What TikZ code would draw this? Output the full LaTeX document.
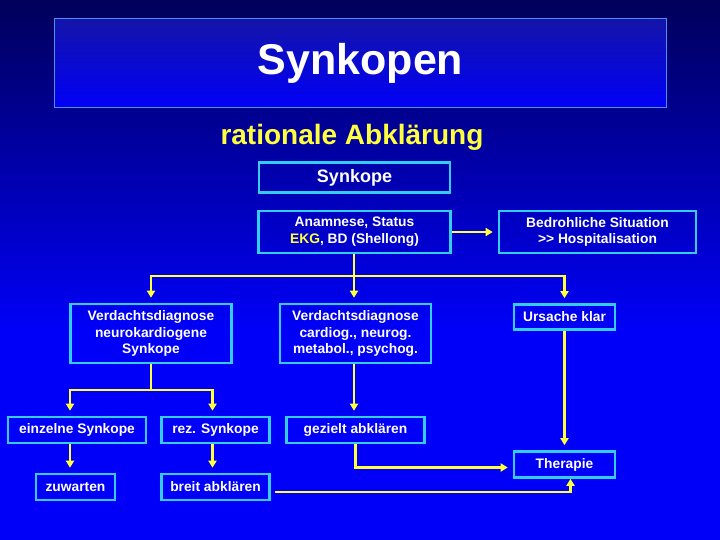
\documentclass[tikz,border=0pt]{standalone}
\usepackage{fontspec}
\setmainfont{Liberation Sans}
\usetikzlibrary{arrows.meta,positioning}
\definecolor{synBgTop}{HTML}{00005A}
\definecolor{synBgBot}{HTML}{0000F8}
\definecolor{synCyan}{HTML}{33CCFF}
\definecolor{synYellow}{HTML}{FFFF3C}
\definecolor{synFrame}{HTML}{4A90F0}
\definecolor{synHead}{HTML}{1414A8}
\tikzset{
  >={Triangle[length=7pt,width=8pt]},
  titlebox/.style={draw=synFrame, line width=1pt, top color=synHead, bottom color=synBgBot,
              minimum width=612pt, minimum height=89pt, text=white,
              font=\bfseries\fontsize{43}{43}\selectfont},
  subline/.style={text=synYellow, font=\bfseries\fontsize{28}{28}\selectfont},
  box/.style={draw=synCyan, line width=2.6pt, text=white, align=center, inner sep=2pt,
              font=\bfseries\fontsize{13.8}{16.8}\selectfont},
  flow/.style={->, draw=synYellow, line width=2.4pt, shorten >=5pt},
  link/.style={draw=synYellow, line width=2.4pt},
}

\begin{document}
\begin{tikzpicture}[x=1pt,y=-1pt]
        \useasboundingbox (0,0) rectangle (720,540);
        \fill[synBgBot] (0,0) rectangle (720,540);
        \shade[top color=synBgTop, bottom color=synBgBot] (0,0) rectangle (720,330);
        \node[titlebox] (title) at (360.5,63) {Synkopen};
        \node[subline] (sub) at (352,137) {rationale Abklärung};
        % top row
        \node[box,minimum width=191pt,minimum height=30pt,font=\bfseries\fontsize{18}{18}\selectfont] (synk) at (354.5,177.5) {Synkope};
        \node[box,minimum width=192pt,minimum height=42pt] (anam) at (354.5,232)
              {Anamnese, Status\\\textcolor{synYellow}{EKG}, BD (Shellong)};
        \node[box,minimum width=197pt,minimum height=42pt] (bedr) at (597.5,232)
              {Bedrohliche Situation\\{>}{>} Hospitalisation};
        % diagnoses
        \node[box,minimum width=161pt,minimum height=59pt] (vd1) at (151,333.5)
              {Verdachtsdiagnose\\neurokardiogene\\Synkope};
        \node[box,minimum width=151pt,minimum height=59pt] (vd2) at (355.5,333.5)
              {Verdachtsdiagnose\\cardiog., neurog.\\metabol., psychog.};
        \node[box,minimum width=101pt,minimum height=25pt] (urs) at (564.5,317) {Ursache klar};
        % lower rows
        \node[box,minimum width=138pt,minimum height=26pt] (einz) at (77,430) {einzelne Synkope};
        \node[box,minimum width=108pt,minimum height=26pt] (rez) at (215.5,430) {rez. Synkope};
        \node[box,minimum width=138pt,minimum height=26pt] (gez) at (355.5,430) {gezielt abklären};
        \node[box,minimum width=79pt,minimum height=26pt] (zuw) at (75.5,487) {zuwarten};
        \node[box,minimum width=108pt,minimum height=26pt] (breit) at (215.5,487) {breit abklären};
        \node[box,minimum width=101pt,minimum height=26pt] (ther) at (564.5,464.5) {Therapie};
        \coordinate (j1) at (354,276);
        \coordinate (j2) at (151,390);
        \draw[flow] (anam) -- (bedr);
        \draw[link] (anam.south -| j1) -- (j1);
        \draw[flow] (j1) -| (vd1);
        \draw[flow] (j1) -- (j1 |- vd2.north);
        \draw[flow] (j1) -| (urs);
        \draw[link] (vd1.south) -- (j2);
        \draw[flow] (j2) -| ([xshift=-7pt]einz.north);
        \draw[flow] (j2) -| ([xshift=-3pt]rez.north);
        \draw[flow] ([xshift=-7pt]einz.south) -- ([xshift=-7pt]einz.south |- zuw.north);
        \draw[flow] ([xshift=-3pt]rez.south) -- ([xshift=-3pt]rez.south |- breit.north);
        \draw[flow] (vd2.south -| j1) -- (j1 |- gez.north);
        \draw[flow] (gez) |- ([yshift=-3pt]ther.west);
        \draw[flow] (urs) -- (ther);
        \draw[flow,shorten <=4pt,shorten >=0pt] ([yshift=-5pt]breit.east) -| ([xshift=6pt]ther.south);
\end{tikzpicture}
\end{document}
